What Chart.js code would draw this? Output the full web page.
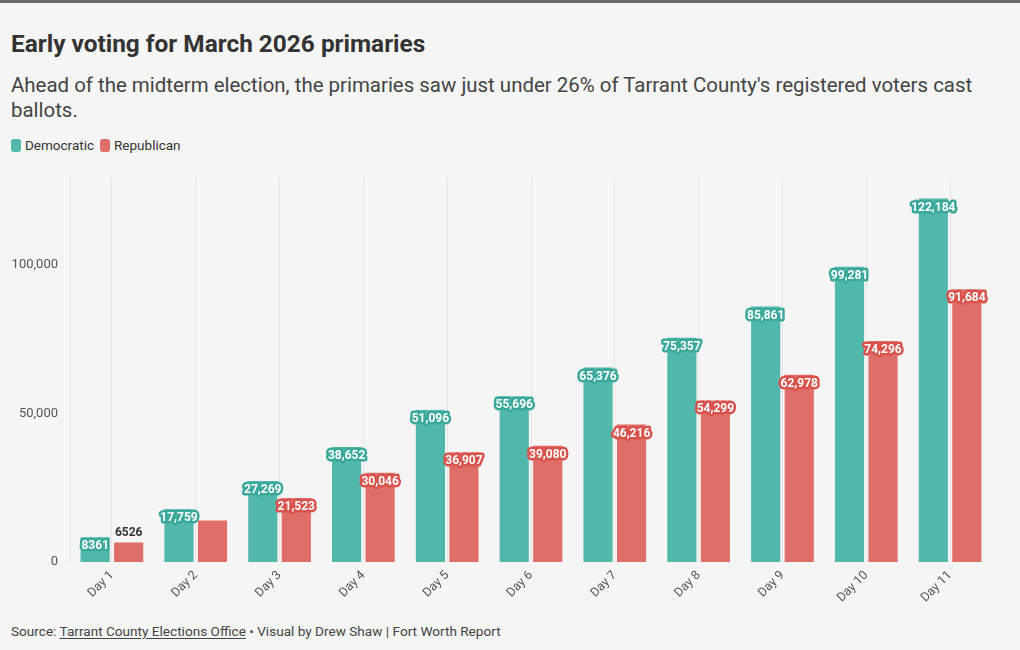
<!DOCTYPE html>
<html>
<head>
<meta charset="utf-8">
<script src="https://cdn.jsdelivr.net/npm/chart.js@4"></script>
<style>
  html, body { margin: 0; padding: 0; }
  body {
    width: 1020px; height: 650px; overflow: hidden; position: relative;
    background: #f5f5f5; font-family: Roboto, "Noto Sans", sans-serif; color: #333;
  }
  #topbar { position: absolute; left: 0; top: 0; width: 1020px; height: 3px; background: #6b6b6b; }
  #title { position: absolute; left: 11px; top: 30px; font-size: 24.4px; line-height: 28px; font-weight: 700; color: #333; }
  #subtitle { position: absolute; left: 11px; top: 73px; width: 1005px; font-size: 20.45px; line-height: 25px; color: #444; }
  #legend { position: absolute; left: 11px; top: 137px; font-size: 13.5px; line-height: 16px; color: #333; }
  #legend span.sw { display: inline-block; width: 10px; height: 13px; border-radius: 3px; vertical-align: -2px; margin-right: 4px; }
  #legend span.it { margin-right: 6px; }
  #chartBox { position: absolute; left: 0; top: 157px; width: 1020px; height: 453px; }
  #footer { position: absolute; left: 11px; top: 623px; font-size: 13.6px; line-height: 16px; color: #444; }
  #footer u { text-underline-offset: 2px; }
</style>
</head>
<body>
<div id="topbar"></div>
<div id="title">Early voting for March 2026 primaries</div>
<div id="subtitle">Ahead of the midterm election, the primaries saw just under 26% of Tarrant County's registered voters cast<br>ballots.</div>
<div id="legend"></div>
<div id="chartBox"><canvas id="voteChart"></canvas></div>
<div id="footer">Source: <u>Tarrant County Elections Office</u> • Visual by Drew Shaw | Fort Worth Report</div>

<script>
document.addEventListener("DOMContentLoaded", function(event) {

    var days = ["Day 1", "Day 2", "Day 3", "Day 4", "Day 5", "Day 6", "Day 7", "Day 8", "Day 9", "Day 10", "Day 11"];
    var democratic = [8361, 17759, 27269, 38652, 51096, 55696, 65376, 75357, 85861, 99281, 122184];
    var republican = [6526, 13950, 21523, 30046, 36907, 39080, 46216, 54299, 62978, 74296, 91684];
    var yTicks = [0, 50000, 100000];

    var demColor = '#53b8ac';
    var repColor = '#e06e68';
    var demStroke = '#3aa99b'; // label outline
    var repStroke = '#d9524c';

    // html legend
    var legend = document.getElementById("legend");
    [["Democratic", demColor], ["Republican", repColor]].forEach(function(item) {
        legend.innerHTML += '<span class="it"><span class="sw" style="background:' + item[1] + '"></span>' + item[0] + '</span>';
    });

    function fmt(v) {
        return v >= 10000 ? v.toLocaleString('en-US') : String(v);
    }

    // value labels on bars, skipping ones that collide
    var barLabels = {
        id: 'barLabels',
        afterDatasetsDraw: function(chart) {
            var ctx = chart.ctx;
            var placed = [];
            ctx.save();
            ctx.font = 'bold 12px Roboto, "Noto Sans", sans-serif';
            ctx.textAlign = 'center';
            ctx.textBaseline = 'middle';
            ctx.lineJoin = 'round';
            chart.data.datasets.forEach(function(ds, di) {
                var meta = chart.getDatasetMeta(di);
                meta.data.forEach(function(bar, i) {
                    var txt = fmt(ds.data[i]);
                    var h = bar.base - bar.y;
                    var inside = h >= 22;
                    var cy = inside ? bar.y + 9 : bar.y - 10;
                    var w = ctx.measureText(txt).width;
                    var box = { l: bar.x - w / 2 - 2, r: bar.x + w / 2 + 2, t: cy - 7, b: cy + 7 };
                    var hit = placed.some(function(p) {
                        return box.l < p.r && box.r > p.l && box.t < p.b && box.b > p.t;
                    });
                    if (hit) return;
                    placed.push(box);
                    if (inside) {
                        ctx.lineWidth = 5;
                        ctx.strokeStyle = ds.labelStroke;
                        ctx.strokeText(txt, bar.x, cy);
                        ctx.fillStyle = '#ffffff';
                        ctx.fillText(txt, bar.x, cy);
                    } else {
                        ctx.fillStyle = '#333333';
                        ctx.fillText(txt, bar.x, cy);
                    }
                });
            });
            ctx.restore();
        }
    };

    var chart = new Chart(document.getElementById("voteChart"), {
        type: 'bar',
        data: {
            labels: days,
            datasets: [{
                label: 'Democratic',
                data: democratic,
                backgroundColor: demColor,
                labelStroke: demStroke,
                categoryPercentage: 0.8,
                barPercentage: 0.87
            }, {
                label: 'Republican',
                data: republican,
                backgroundColor: repColor,
                labelStroke: repStroke,
                categoryPercentage: 0.8,
                barPercentage: 0.87
            }]
        },
        options: {
            responsive: true,
            maintainAspectRatio: false,
            animation: false,
            layout: { padding: { top: 12, right: 28, left: 0, bottom: 0 } },
            plugins: {
                legend: { display: false },
                tooltip: { enabled: false }
            },
            scales: {
                x: {
                    grid: { display: true, offset: false, color: '#e6e6e6', drawTicks: false },
                    border: { display: false },
                    ticks: {
                        color: '#555',
                        font: { family: 'Roboto', size: 12.5 },
                        minRotation: 45,
                        maxRotation: 45,
                        padding: 6
                    },
                    afterFit: function(scale) { scale.height = 48; }
                },
                y: {
                    min: 0,
                    max: 129500,
                    grid: { display: false, drawTicks: false },
                    border: { display: true, color: '#e6e6e6', width: 1 },
                    ticks: {
                        color: '#555',
                        font: { family: 'Roboto', size: 13 },
                        padding: 12,
                        callback: function(v) { return v.toLocaleString('en-US'); }
                    },
                    afterBuildTicks: function(scale) {
                        scale.ticks = yTicks.map(function(v) { return { value: v }; });
                    },
                    afterFit: function(scale) { scale.width = 70; }
                }
            }
        },
        plugins: [barLabels]
    });
});
</script>
</body>
</html>
